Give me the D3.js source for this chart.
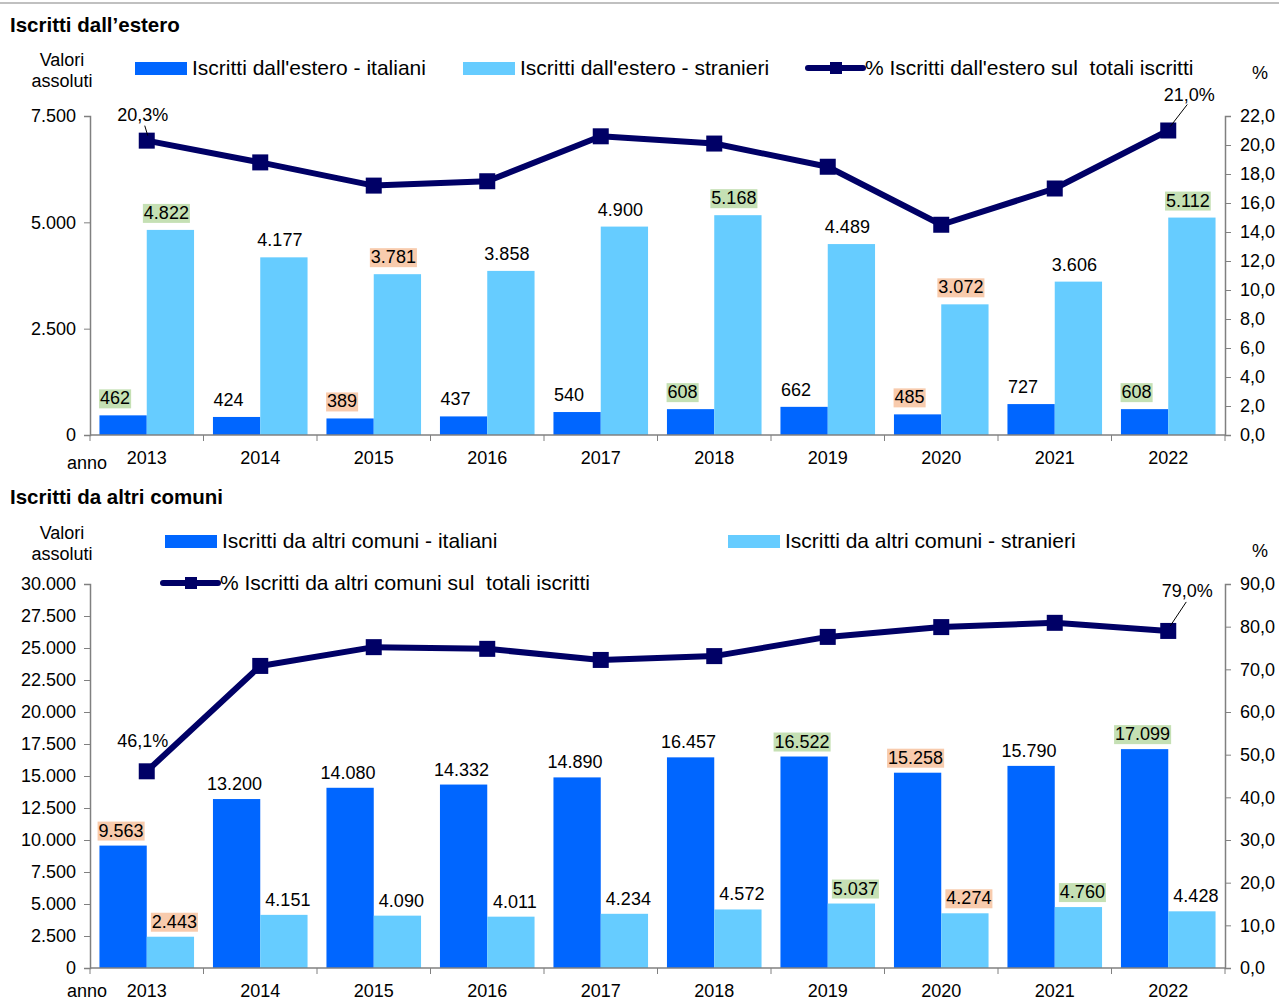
<!DOCTYPE html>
<html>
<head>
<meta charset="utf-8">
<script src="https://cdn.jsdelivr.net/npm/d3@7"></script>
<style>
  body { margin: 0; background: #fff; }
  text { font-family: "Liberation Sans", Arial, sans-serif; fill: #000; white-space: pre; }
</style>
</head>
<body>
<script>
// categories
var years = ["2013","2014","2015","2016","2017","2018","2019","2020","2021","2022"];

// Iscritti dall'estero
var esteroItaliani  = [462, 424, 389, 437, 540, 608, 662, 485, 727, 608];
var esteroStranieri = [4822, 4177, 3781, 3858, 4900, 5168, 4489, 3072, 3606, 5112];
var esteroPerc      = [20.3, 18.8, 17.2, 17.5, 20.6, 20.1, 18.5, 14.5, 17.0, 21.0];
var esteroItMark    = ["max","","min","","","max","","min","","max"];
var esteroStMark    = ["max","","min","","","max","","min","","max"];
var esteroTicksL    = [0, 2500, 5000, 7500];
var esteroTicksR    = [0,2,4,6,8,10,12,14,16,18,20,22];

// Iscritti da altri comuni
var comuniItaliani  = [9563, 13200, 14080, 14332, 14890, 16457, 16522, 15258, 15790, 17099];
var comuniStranieri = [2443, 4151, 4090, 4011, 4234, 4572, 5037, 4274, 4760, 4428];
var comuniPerc      = [46.1, 70.8, 75.2, 74.8, 72.2, 73.1, 77.6, 79.9, 80.9, 79.0];
var comuniItMark    = ["min","","","","","","max","min","","max"];
var comuniStMark    = ["min","","","","","","max","min","max",""];
var comuniTicksL    = d3.range(0, 30001, 2500);
var comuniTicksR    = [0,10,20,30,40,50,60,70,80,90];

var it = d3.formatLocale({decimal: ",", thousands: ".", grouping: [3], currency: ["", "€"]});
var fmtN = it.format(",");
var fmtP = it.format(".1f");

var w = 1279, h = 1000;
var colIt = "#0066ff", colSt = "#66ccff", colLine = "#000066";
var hiCol = {max: "#c5e0b4", min: "#f8cbad"};

var svg = d3.select("body").append("svg")
            .attr("width", w)
            .attr("height", h);

// thin grey rule on top
svg.append("line").attr("x1", 0).attr("x2", w).attr("y1", 3).attr("y2", 3)
   .attr("stroke", "#c0c0c0").attr("stroke-width", 2);

function drawChart(c) {
  var g = svg.append("g");

  g.append("text").attr("x", 10).attr("y", c.titleY)
   .style("font-weight", "bold").style("font-size", "20.5px").text(c.title);

  g.append("text").attr("x", 62).attr("y", c.unitY).attr("text-anchor", "middle")
   .style("font-size", "18px").text("Valori");
  g.append("text").attr("x", 62).attr("y", c.unitY + 21).attr("text-anchor", "middle")
   .style("font-size", "18px").text("assoluti");
  g.append("text").attr("x", 1260).attr("y", c.pctY).attr("text-anchor", "middle")
   .style("font-size", "18px").text("%");

  var x = d3.scaleBand().domain(years).range([90, 1225]);
  var xs = d3.scaleBand().domain(["it", "st"]).range([0, x.bandwidth()]).paddingOuter(0.2);
  var y = d3.scaleLinear().domain([0, c.yMax]).range([c.bottom, c.top]);
  var yr = d3.scaleLinear().domain([0, c.pMax]).range([c.bottom, c.top]);
  var cx = function(i) { return x(years[i]) + x.bandwidth() / 2; };

  // axes
  var axL = g.append("g").attr("transform", "translate(90,0)")
    .call(d3.axisLeft(y).tickValues(c.ticksL).tickFormat(fmtN).tickSizeOuter(0).tickSize(6).tickPadding(8));
  var axR = g.append("g").attr("transform", "translate(1225,0)")
    .call(d3.axisRight(yr).tickValues(c.ticksR).tickFormat(fmtP).tickSizeOuter(0).tickSize(6).tickPadding(9));
  [axL, axR].forEach(function(a) {
    a.select(".domain").attr("stroke", "#808080").attr("stroke-width", 1.5);
    a.selectAll(".tick line").attr("stroke", "#808080");
    a.selectAll("text").style("font-size", "18px").attr("font-family", null);
  });

  // bars
  var series = [
    {key: "it", vals: c.italiani, marks: c.itMark, col: colIt, dx: c.itDx},
    {key: "st", vals: c.stranieri, marks: c.stMark, col: colSt, dx: c.stDx}
  ];
  series.forEach(function(s) {
    g.selectAll(".bar-" + s.key)
     .data(s.vals)
     .enter()
     .append("rect")
     .attr("x", function(d, i) { return x(years[i]) + xs(s.key); })
     .attr("width", xs.bandwidth())
     .attr("y", function(d) { return y(d); })
     .attr("height", function(d) { return c.bottom - y(d); })
     .style("fill", s.col);
  });

  // x axis
  var axX = g.append("g").attr("transform", "translate(0," + c.bottom + ")");
  axX.append("line").attr("x1", 90).attr("x2", 1225).attr("stroke", "#808080").attr("stroke-width", 1.5);
  axX.selectAll(".tk").data(years.concat(["end"])).enter().append("line")
     .attr("x1", function(d, i) { return 90 + i * x.step(); })
     .attr("x2", function(d, i) { return 90 + i * x.step(); })
     .attr("y1", 0).attr("y2", 6).attr("stroke", "#808080");
  axX.selectAll(".lbl").data(years).enter().append("text")
     .attr("x", function(d) { return x(d) + x.bandwidth() / 2; })
     .attr("y", 29).attr("text-anchor", "middle").style("font-size", "18px")
     .text(function(d) { return d; });
  g.append("text").attr("x", 87).attr("y", Math.min(c.bottom + 34, 997)).attr("text-anchor", "middle")
   .style("font-size", "18px").text("anno");

  // value labels
  series.forEach(function(s) {
    s.vals.forEach(function(v, i) {
      var lg = g.append("g");
      var t = lg.append("text")
        .attr("x", x(years[i]) + xs(s.key) + xs.bandwidth() / 2 + s.dx)
        .attr("y", y(v) - c.lblGap)
        .attr("text-anchor", "middle")
        .style("font-size", "18px")
        .text(fmtN(v));
      if (s.marks[i]) {
        var b = t.node().getBBox();
        lg.insert("rect", "text")
          .attr("x", b.x - 1).attr("y", b.y + 1)
          .attr("width", b.width + 2).attr("height", b.height - 1)
          .style("fill", hiCol[s.marks[i]]);
      }
    });
  });

  // percent line
  var line = d3.line().x(function(d, i) { return cx(i); }).y(function(d) { return yr(d); });
  g.append("path").datum(c.perc).attr("d", line)
   .attr("fill", "none").attr("stroke", colLine).attr("stroke-width", 6).attr("stroke-linejoin", "round");
  g.selectAll(".mk").data(c.perc).enter().append("rect")
   .attr("x", function(d, i) { return cx(i) - 8; })
   .attr("y", function(d) { return yr(d) - 8; })
   .attr("width", 16).attr("height", 16)
   .style("fill", colLine);

  // first / last annotations
  c.notes.forEach(function(n) {
    var px = cx(n.i), py = yr(c.perc[n.i]);
    if (n.leader) {
      g.append("line").attr("x1", px + n.leader[0]).attr("y1", py + n.leader[1])
       .attr("x2", px + n.leader[2]).attr("y2", py + n.leader[3])
       .attr("stroke", "#000").attr("stroke-width", 1);
    }
    g.append("text").attr("x", px + n.dx).attr("y", py + n.dy).attr("text-anchor", "middle")
     .style("font-size", "18px").text(fmtP(c.perc[n.i]) + "%");
  });

  // legend
  c.legend.forEach(function(l) {
    if (l.type === "bar") {
      g.append("rect").attr("x", l.x).attr("y", l.y - 6).attr("width", 52).attr("height", 13)
       .style("fill", l.col);
    } else {
      g.append("line").attr("x1", l.x).attr("x2", l.x + 55).attr("y1", l.y).attr("y2", l.y)
       .attr("stroke", colLine).attr("stroke-width", 6).attr("stroke-linecap", "round");
      g.append("rect").attr("x", l.x + 22).attr("y", l.y - 6).attr("width", 12).attr("height", 12)
       .style("fill", colLine);
    }
    g.append("text").attr("x", l.x + 57).attr("y", l.y + 7)
     .style("font-size", "21px").text(l.label);
  });
}

drawChart({
  title: "Iscritti dall\u2019estero", titleY: 32, unitY: 66, pctY: 79,
  top: 116, bottom: 435, yMax: 7500, pMax: 22, lblGap: 11,
  ticksL: esteroTicksL, ticksR: esteroTicksR,
  italiani: esteroItaliani, stranieri: esteroStranieri, perc: esteroPerc,
  itMark: esteroItMark, stMark: esteroStMark, itDx: -8, stDx: -4,
  notes: [
    {i: 0, dx: -4, dy: -20, leader: [-2, -15, 1, -5]},
    {i: 9, dx: 21, dy: -30, leader: [19, -26, 2, -4]}
  ],
  legend: [
    {type: "bar", x: 135, y: 68, col: colIt, label: "Iscritti dall'estero - italiani"},
    {type: "bar", x: 463, y: 68, col: colSt, label: "Iscritti dall'estero - stranieri"},
    {type: "line", x: 808, y: 68, label: "% Iscritti dall'estero sul  totali iscritti"}
  ]
});

drawChart({
  title: "Iscritti da altri comuni", titleY: 504, unitY: 539, pctY: 557,
  top: 584, bottom: 968, yMax: 30000, pMax: 90, lblGap: 9,
  ticksL: comuniTicksL, ticksR: comuniTicksR,
  italiani: comuniItaliani, stranieri: comuniStranieri, perc: comuniPerc,
  itMark: comuniItMark, stMark: comuniStMark, itDx: -2, stDx: 4,
  notes: [
    {i: 0, dx: -4, dy: -24, leader: null},
    {i: 9, dx: 19, dy: -34, leader: [18, -29, 2, -5]}
  ],
  legend: [
    {type: "bar", x: 165, y: 541, col: colIt, label: "Iscritti da altri comuni - italiani"},
    {type: "bar", x: 728, y: 541, col: colSt, label: "Iscritti da altri comuni - stranieri"},
    {type: "line", x: 163, y: 583, label: "% Iscritti da altri comuni sul  totali iscritti"}
  ]
});
</script>
</body>
</html>
